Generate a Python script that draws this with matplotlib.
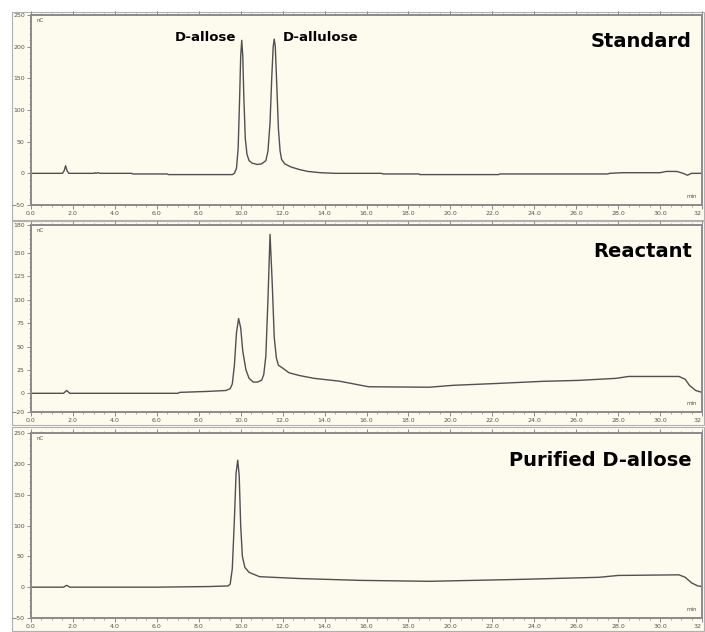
import matplotlib
matplotlib.use("Agg")
import matplotlib.pyplot as plt
from matplotlib.patches import Rectangle
from matplotlib.ticker import MultipleLocator, FixedLocator

# ---------------- data ----------------
std_t = [0.0, 1.50, 1.58, 1.65, 1.72, 1.80, 3.0, 3.05, 3.1, 3.2, 3.3, 4.8, 4.85, 6.5, 6.55,
         9.6, 9.7, 9.8, 9.88, 9.95, 10.0, 10.05, 10.1, 10.15, 10.22, 10.3, 10.4, 10.55, 10.8,
         11.0, 11.2, 11.3, 11.4, 11.48, 11.55, 11.6, 11.65, 11.72, 11.8, 11.88, 11.95, 12.1,
         12.4, 12.8, 13.2, 13.8, 14.5, 16.7, 16.8, 18.5, 18.55, 22.3, 22.35, 27.5, 27.6, 28.2,
         30.0, 30.3, 30.8, 31.1, 31.3, 31.5, 32.0]
std_v = [0, 0, 4, 12, 4, 0, 0, 1, 0, 1, 0, 0, -1, -1, -2,
         -2, 0, 8, 40, 120, 185, 210, 185, 120, 55, 30, 20, 16, 14,
         15, 20, 35, 80, 150, 200, 212, 200, 140, 70, 35, 22, 15,
         10, 6, 3, 1, 0, 0, -1, -1, -2, -2, -1, -1, 0, 1,
         1, 3, 3, 0, -3, 0, 0]

rea_t = [0.0, 1.55, 1.7, 1.85, 3.0, 7.0, 7.1, 8.4, 9.3, 9.5, 9.6, 9.7, 9.8, 9.9, 10.0,
         10.1, 10.25, 10.4, 10.6, 10.8, 11.0, 11.1, 11.2, 11.3, 11.4, 11.5, 11.6, 11.7, 11.8,
         12.0, 12.3, 12.8, 13.5, 14.7, 16.1, 19.0, 20.1, 22.3, 24.4, 26.1, 27.9, 28.5, 30.9,
         31.2, 31.4, 31.7, 32.0]
rea_v = [0, 0, 3, 0, 0, 0, 1, 2, 3, 5, 10, 30, 65, 80, 70,
         45, 25, 16, 12, 12, 14, 20, 40, 100, 170, 120, 60, 38, 30,
         27, 22, 19, 16, 13, 7, 6.5, 8.5, 10.6, 12.8, 13.8, 16, 18, 18,
         15, 8.5, 3, 1]

pur_t = [0.0, 1.55, 1.7, 1.85, 6.0, 8.5, 9.4, 9.5, 9.6, 9.7, 9.78, 9.86, 9.93, 10.0,
         10.08, 10.2, 10.4, 10.9, 12.8, 15.7, 19.0, 23.3, 27.1, 28.0, 30.9, 31.2, 31.5,
         31.8, 32.0]
pur_v = [0, 0, 3, 0, 0, 1, 2, 5, 30, 110, 185, 206, 180, 100,
         50, 32, 24, 17, 14, 11, 9.5, 12.6, 16, 19, 20, 16, 7,
         2, 1]

panel_titles = ["Standard", "Reactant", "Purified D-allose"]
peak_labels = ["D-allose", "D-allulose"]
peak_label_t = [9.8, 12.0]
peak_label_y = 215
x_tick_vals = [0, 2, 4, 6, 8, 10, 12, 14, 16, 18, 20, 22, 24, 26, 28, 30, 32]
x_tick_text = ["0.0", "2.0", "4.0", "6.0", "8.0", "10.0", "12.0", "14.0", "16.0", "18.0",
               "20.0", "22.0", "24.0", "26.0", "28.0", "30.0", "32"]
y_ticks = [[-50, 0, 50, 100, 150, 200, 250],
           [-20, 0, 25, 50, 75, 100, 125, 150, 180],
           [-50, 0, 50, 100, 150, 200, 250]]
y_limits = [(-50, 250), (-20, 180), (-50, 250)]

# ---------------- figure ----------------
W, H = 705, 632
fig = plt.figure(figsize=(W / 100, H / 100), dpi=100, facecolor="white")
plt.rcParams['font.family'] = ['DejaVu Sans']

cream = "#FDFAEE"
line_c = "#505050"
frame_c = "#8a8a8a"

def fx(x):
    return x / W

def fy(y):
    return 1 - y / H

# panel window backgrounds (px: top, bottom)
windows = [(12, 220), (221, 425), (427, 631)]
for top, bot in windows:
    fig.add_artist(Rectangle((fx(12), fy(bot)), fx(704) - fx(12), fy(top) - fy(bot),
                             transform=fig.transFigure, facecolor=cream,
                             edgecolor="#b0b0b0", linewidth=0.8, zorder=0))

axes_px = [(15, 205), (225, 412), (433, 618)]
traces = [(std_t, std_v), (rea_t, rea_v), (pur_t, pur_v)]
axs = []
for i, ((top, bot), (tt, vv)) in enumerate(zip(axes_px, traces)):
    ax = fig.add_axes([fx(31), fy(bot), fx(702) - fx(31), fy(top) - fy(bot)])
    ax.set_facecolor(cream)
    ax.plot(tt, vv, color=line_c, linewidth=1.0)
    ax.set_xlim(0, 32)
    ax.set_ylim(*y_limits[i])
    ax.xaxis.set_major_locator(FixedLocator(x_tick_vals))
    ax.set_xticklabels(x_tick_text)
    ax.get_xticklabels()[-1].set_horizontalalignment("right")
    ax.xaxis.set_minor_locator(MultipleLocator(0.5))
    ax.yaxis.set_major_locator(FixedLocator(y_ticks[i]))
    ax.yaxis.set_minor_locator(MultipleLocator(10 if i != 1 else 5))
    ax.tick_params(axis="both", which="major", labelsize=4.5, labelcolor="#555555",
                   color=frame_c, length=3, width=0.7, pad=1.5)
    ax.tick_params(axis="both", which="minor", color=frame_c, length=1.5, width=0.5)
    ax.tick_params(axis="x", top=True, which="both", direction="out")
    for s in ax.spines.values():
        s.set_color(frame_c)
        s.set_linewidth(1.4)
    ax.text(0.008, 0.985, "nC", transform=ax.transAxes, fontsize=4, color="#555555",
            ha="left", va="top")
    ax.text(0.993, 0.03, "min", transform=ax.transAxes, fontsize=4, color="#555555",
            ha="right", va="bottom")
    ax.text(0.985, 0.86 if i != 2 else 0.85, panel_titles[i],
            transform=ax.transAxes, fontsize=14, fontweight="bold", color="black",
            ha="right", va="center")
    axs.append(ax)

# peak labels on the standard
axs[0].text(peak_label_t[0], peak_label_y, peak_labels[0], fontsize=9.5, fontweight="bold",
            ha="right", va="center", color="black")
axs[0].text(peak_label_t[1], peak_label_y, peak_labels[1], fontsize=9.5, fontweight="bold",
            ha="left", va="center", color="black")

fig.savefig("out.png", dpi=100, facecolor="white")
